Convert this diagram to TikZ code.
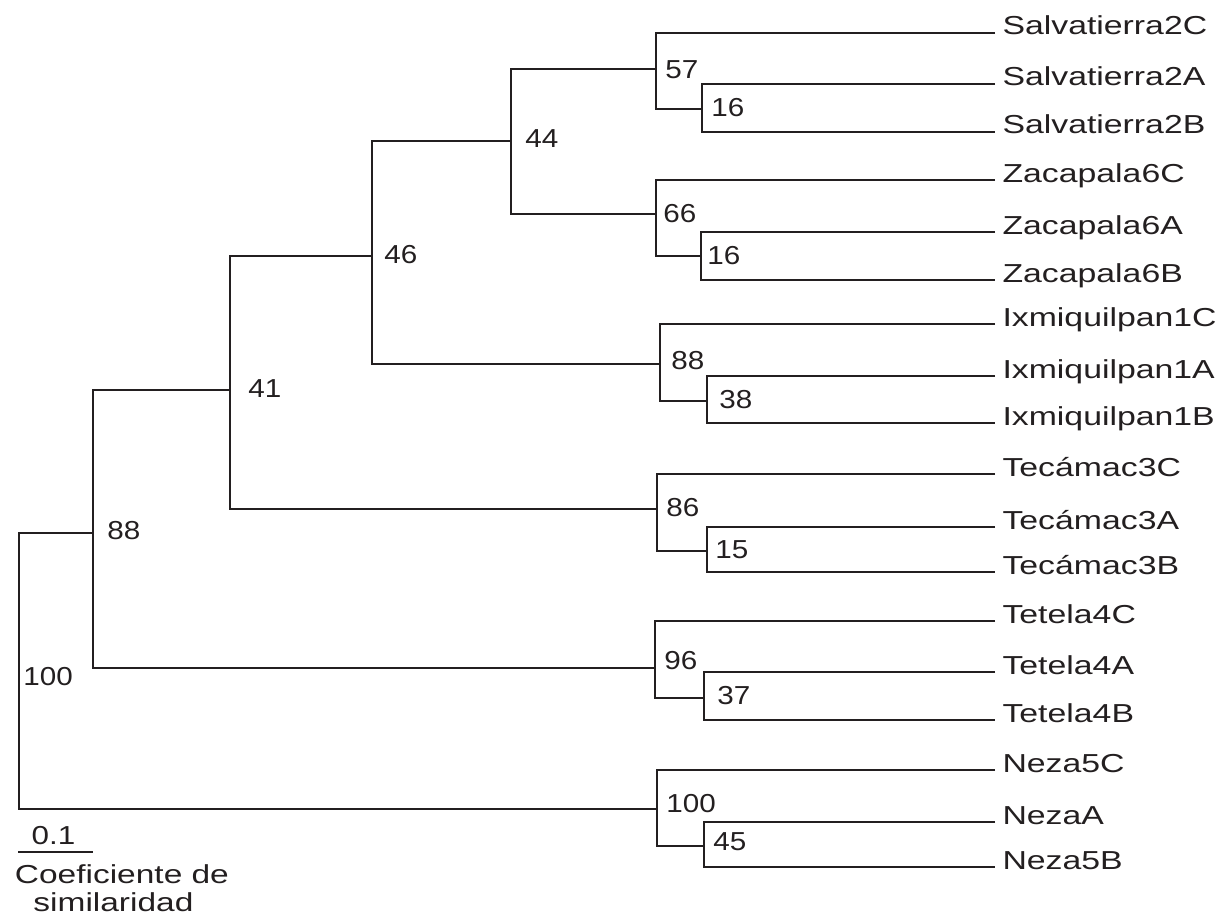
\documentclass[tikz,border=0pt]{standalone}
\usepackage{fontspec}
\setmainfont{Liberation Sans}
\usepackage{tikz}
\definecolor{ink}{HTML}{231F20}

\begin{document}
\begin{tikzpicture}[x=1pt,y=-1pt,line width=2.3pt,color=ink]
  \tikzset{leaf/.style={anchor=base west,inner sep=0pt,xscale=1.30,font=\fontsize{26}{30}\selectfont}}
  \tikzset{boot/.style={anchor=west,inner sep=0pt,xscale=1.14,font=\fontsize{26}{30}\selectfont}}
  \useasboundingbox (0,0) rectangle (1223,915);

  % tips
  \coordinate (s2c) at (995,33);  \node[leaf] (ls2c) at (1001,35)  {Salvatierra2C};
  \coordinate (s2a) at (995,84);  \node[leaf] (ls2a) at (1001,86)  {Salvatierra2A};
  \coordinate (s2b) at (995,132); \node[leaf] (ls2b) at (1001,134) {Salvatierra2B};
  \coordinate (z6c) at (995,180); \node[leaf] (lz6c) at (1001,182) {Zacapala6C};
  \coordinate (z6a) at (995,232); \node[leaf] (lz6a) at (1001,234) {Zacapala6A};
  \coordinate (z6b) at (995,280); \node[leaf] (lz6b) at (1001,282) {Zacapala6B};
  \coordinate (i1c) at (995,324); \node[leaf] (li1c) at (1001,326) {Ixmiquilpan1C};
  \coordinate (i1a) at (995,376); \node[leaf] (li1a) at (1001,378) {Ixmiquilpan1A};
  \coordinate (i1b) at (995,423); \node[leaf] (li1b) at (1001,425) {Ixmiquilpan1B};
  \coordinate (t3c) at (995,474); \node[leaf] (lt3c) at (1001,476) {Tecámac3C};
  \coordinate (t3a) at (995,527); \node[leaf] (lt3a) at (1001,529) {Tecámac3A};
  \coordinate (t3b) at (995,572); \node[leaf] (lt3b) at (1001,574) {Tecámac3B};
  \coordinate (e4c) at (995,621); \node[leaf] (le4c) at (1001,623) {Tetela4C};
  \coordinate (e4a) at (995,672); \node[leaf] (le4a) at (1001,674) {Tetela4A};
  \coordinate (e4b) at (995,720); \node[leaf] (le4b) at (1001,722) {Tetela4B};
  \coordinate (n5c) at (995,770); \node[leaf] (ln5c) at (1001,772) {Neza5C};
  \coordinate (n5a) at (995,822); \node[leaf] (ln5a) at (1001,824) {NezaA};
  \coordinate (n5b) at (995,867); \node[leaf] (ln5b) at (1001,869) {Neza5B};

  % clusters
  \coordinate (root) at (19,671);
  \coordinate (c88) at (93,533);
  \coordinate (c41) at (230,390);
  \coordinate (c46) at (372,256);
  \coordinate (c44) at (511,141);
  \coordinate (salv) at (656,69);   \coordinate (salvab) at (702,109);
  \coordinate (zaca) at (656,214);  \coordinate (zacaab) at (701,256);
  \coordinate (ixmi) at (660,364);  \coordinate (ixmiab) at (707,401);
  \coordinate (teca) at (657,509);  \coordinate (tecaab) at (707,551);
  \coordinate (tete) at (655,668);  \coordinate (teteab) at (704,698);
  \coordinate (neza) at (657,809);  \coordinate (nezaab) at (704,846);

  \draw (s2a) -| (salvab) |- (s2b);
  \draw (s2c) -| (salv) |- (salvab);
  \draw (z6a) -| (zacaab) |- (z6b);
  \draw (z6c) -| (zaca) |- (zacaab);
  \draw (i1a) -| (ixmiab) |- (i1b);
  \draw (i1c) -| (ixmi) |- (ixmiab);
  \draw (t3a) -| (tecaab) |- (t3b);
  \draw (t3c) -| (teca) |- (tecaab);
  \draw (e4a) -| (teteab) |- (e4b);
  \draw (e4c) -| (tete) |- (teteab);
  \draw (n5a) -| (nezaab) |- (n5b);
  \draw (n5c) -| (neza) |- (nezaab);
  \draw (salv) -| (c44) |- (zaca);
  \draw (c44) -| (c46) |- (ixmi);
  \draw (c46) -| (c41) |- (teca);
  \draw (c41) -| (c88) |- (tete);
  \draw (c88) -| (root) |- (neza);

  % bootstrap values
  \node[boot] (broot) at (22,677) {100};
  \node[boot] (b88) at (106,531) {88};
  \node[boot] (b41) at (247,389) {41};
  \node[boot] (b46) at (383,255) {46};
  \node[boot] (b44) at (524,139) {44};
  \node[boot] (bsalv) at (664,70) {57};
  \node[boot] (bsalvab) at (710,108) {16};
  \node[boot] (bzaca) at (662,214) {66};
  \node[boot] (bzacaab) at (706,256) {16};
  \node[boot] (bixmi) at (670,361) {88};
  \node[boot] (bixmiab) at (718,400) {38};
  \node[boot] (bteca) at (665,508) {86};
  \node[boot] (btecaab) at (714,550) {15};
  \node[boot] (btete) at (663,661) {96};
  \node[boot] (bteteab) at (716,696) {37};
  \node[boot] (bneza) at (665,804) {100};
  \node[boot] (bnezaab) at (712,842) {45};

  % scale
  \coordinate (sbl) at (18,852);
  \coordinate (sbr) at (93,852);
  \draw (sbl) -- (sbr);
  \node[boot,anchor=center,xscale=1.06] (sbv) at (53.5,836) {0.1};
  \node[leaf,xscale=0.99] (sbt) at (13.5,883) {Coeficiente de};
  \node[leaf,xscale=0.99] (sbu) at (32,911) {similaridad};
\end{tikzpicture}
\end{document}
